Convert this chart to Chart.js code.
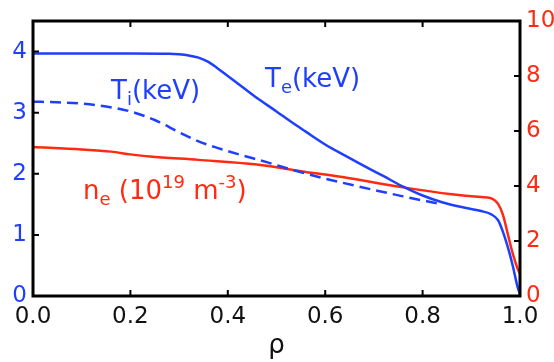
<!DOCTYPE html>
<html>
<head>
<meta charset="utf-8">
<script src="https://cdn.jsdelivr.net/npm/chart.js@4.4.1/dist/chart.umd.min.js"></script>
<style>
  html, body { margin: 0; padding: 0; background: #ffffff; }
  #wrap { width: 554px; height: 362px; }
</style>
</head>
<body>
<div id="wrap"><canvas id="c" width="554" height="362"></canvas></div>
<script>
// ---- data ----
const rhoTe = [0, 0.1, 0.2, 0.28, 0.30, 0.32, 0.34, 0.36, 0.38, 0.40, 0.43, 0.46, 0.50, 0.53, 0.56, 0.60, 0.64, 0.67, 0.72, 0.76, 0.80, 0.84, 0.88, 0.92, 0.94, 0.955, 0.965, 0.975, 0.985, 0.995, 1.0];
const Te    = [3.97, 3.97, 3.97, 3.965, 3.955, 3.935, 3.90, 3.83, 3.72, 3.60, 3.42, 3.24, 3.02, 2.85, 2.69, 2.48, 2.30, 2.17, 1.96, 1.79, 1.645, 1.535, 1.455, 1.39, 1.34, 1.24, 1.05, 0.80, 0.50, 0.15, 0.03];

const rhoTi = [0, 0.05, 0.1, 0.15, 0.2, 0.25, 0.30, 0.34, 0.38, 0.43, 0.48, 0.53, 0.60, 0.67, 0.76, 0.84];
const Ti    = [3.18, 3.17, 3.15, 3.10, 3.02, 2.88, 2.68, 2.53, 2.42, 2.30, 2.19, 2.07, 1.92, 1.79, 1.63, 1.50];

const rhoNe = [0, 0.1, 0.16, 0.20, 0.24, 0.34, 0.46, 0.55, 0.65, 0.76, 0.86, 0.92, 0.94, 0.955, 0.965, 0.975, 0.985, 0.995, 1.0];
const ne    = [5.42, 5.33, 5.25, 5.15, 5.07, 4.95, 4.78, 4.54, 4.28, 3.95, 3.70, 3.60, 3.56, 3.35, 2.95, 2.25, 1.55, 1.00, 0.80];

const xTicks = [0, 0.2, 0.4, 0.6, 0.8, 1.0];
const yLeftTicks = [0, 1, 2, 3, 4];
const yRightTicks = [0, 2, 4, 6, 8, 10];

const BLUE = '#1f3fff';
const RED = '#ff2a12';
const FONT = 'DejaVu Sans';

const pts = (xs, ys) => xs.map((x, i) => ({ x: x, y: ys[i] }));

// ---- spines, inward ticks, curve labels ----
const framePlugin = {
  id: 'frame',
  afterDatasetsDraw(chart) {
    const ctx = chart.ctx;
    const a = chart.chartArea;
    const sx = chart.scales.x, yl = chart.scales.y, yr = chart.scales.y2;
    const TL = 6;
    ctx.save();
    ctx.strokeStyle = '#000';
    ctx.lineWidth = 2;
    ctx.beginPath();
    xTicks.forEach(v => {
      const px = sx.getPixelForValue(v);
      ctx.moveTo(px, a.bottom); ctx.lineTo(px, a.bottom - TL);
      ctx.moveTo(px, a.top); ctx.lineTo(px, a.top + TL);
    });
    yLeftTicks.forEach(v => {
      const py = yl.getPixelForValue(v);
      ctx.moveTo(a.left, py); ctx.lineTo(a.left + TL, py);
    });
    yRightTicks.forEach(v => {
      const py = yr.getPixelForValue(v);
      ctx.moveTo(a.right, py); ctx.lineTo(a.right - TL, py);
    });
    ctx.stroke();
    ctx.lineWidth = 3;
    ctx.strokeRect(a.left, a.top, a.right - a.left, a.bottom - a.top);

    // curve labels
    function run(parts, x, y, color) {
      ctx.fillStyle = color;
      ctx.textBaseline = 'alphabetic';
      ctx.textAlign = 'left';
      let cx = x;
      parts.forEach(p => {
        const size = p.s || 26;
        ctx.font = size + 'px "' + FONT + '"';
        ctx.fillText(p.t, cx, y + (p.dy || 0));
        cx += ctx.measureText(p.t).width;
      });
    }
    run([{t: 'T'}, {t: 'i', s: 18, dy: 6}, {t: '(keV)'}], 111, 99, BLUE);
    run([{t: 'T'}, {t: 'e', s: 18, dy: 6}, {t: '(keV)'}], 265, 87, BLUE);
    run([{t: 'n'}, {t: 'e', s: 18, dy: 6}, {t: ' (10'}, {t: '19', s: 18, dy: -11}, {t: ' m'}, {t: '-3', s: 18, dy: -11}, {t: ')'}], 83, 199, RED);
    ctx.restore();
  }
};

new Chart(document.getElementById('c'), {
  type: 'line',
  data: {
    datasets: [
      { label: 'Te', data: pts(rhoTe, Te), yAxisID: 'y', borderColor: BLUE, borderWidth: 2.5, pointRadius: 0, cubicInterpolationMode: 'monotone', fill: false },
      { label: 'Ti', data: pts(rhoTi, Ti), yAxisID: 'y', borderColor: BLUE, borderWidth: 2.5, borderDash: [11, 6], pointRadius: 0, cubicInterpolationMode: 'monotone', fill: false },
      { label: 'ne', data: pts(rhoNe, ne), yAxisID: 'y2', borderColor: RED, borderWidth: 2.5, pointRadius: 0, cubicInterpolationMode: 'monotone', fill: false }
    ]
  },
  options: {
    responsive: false,
    animation: false,
    devicePixelRatio: 1,
    layout: { padding: { top: 21, left: 0, right: 0, bottom: 0 } },
    plugins: { legend: { display: false }, tooltip: { enabled: false } },
    scales: {
      x: {
        type: 'linear', min: 0, max: 1,
        afterBuildTicks: s => { s.ticks = xTicks.map(v => ({ value: v })); },
        afterFit: s => { s.height = 66; },
        grid: { display: false, drawTicks: false }, border: { display: false },
        ticks: { color: '#111', padding: 7, font: { family: FONT, size: 23 }, maxRotation: 0, autoSkip: false, callback: v => Number(v).toFixed(1) },
        title: { display: true, text: 'ρ', color: '#111', font: { family: FONT, size: 26 }, padding: { top: 0, bottom: 0 } }
      },
      y: {
        type: 'linear', position: 'left', min: 0, max: 4.5,
        afterBuildTicks: s => { s.ticks = yLeftTicks.map(v => ({ value: v })); },
        afterFit: s => { s.width = 33; },
        grid: { display: false, drawTicks: false }, border: { display: false },
        ticks: { color: BLUE, padding: 6, font: { family: FONT, size: 23 }, autoSkip: false, callback: v => String(v) }
      },
      y2: {
        type: 'linear', position: 'right', min: 0, max: 10,
        afterBuildTicks: s => { s.ticks = yRightTicks.map(v => ({ value: v })); },
        afterFit: s => { s.width = 34; },
        grid: { display: false, drawTicks: false }, border: { display: false },
        ticks: { color: RED, padding: 6, font: { family: FONT, size: 23 }, autoSkip: false, callback: v => String(v) }
      }
    }
  },
  plugins: [framePlugin]
});
</script>
</body>
</html>
